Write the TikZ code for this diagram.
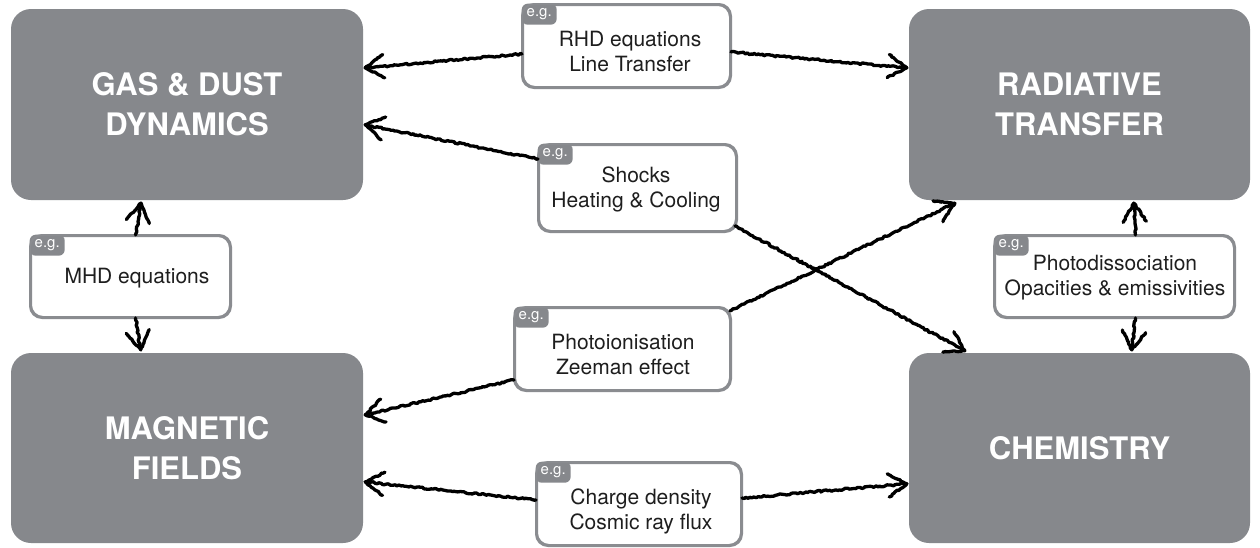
\documentclass[tikz,border=0pt]{standalone}
\usepackage{fontspec}
\setmainfont{TeX Gyre Heros}
\usetikzlibrary{calc,decorations.pathmorphing}
\definecolor{boxgray}{RGB}{134,136,140}
\definecolor{edgegray}{RGB}{138,140,144}
\definecolor{txt}{RGB}{30,30,30}
\tikzset{
 big/.style={draw=none, fill=boxgray, rounded corners=20pt, text=white, font=\fontsize{31}{40}\selectfont\bfseries, align=center, inner sep=0pt},
 egbox/.style={draw=edgegray, line width=2pt, fill=white, rounded corners=12pt, inner sep=0pt},
 egtag/.style={fill=boxgray, rounded corners=6pt, minimum width=35pt, minimum height=21pt, inner sep=0pt, text=white, font=\fontsize{15}{15}\selectfont, anchor=north west},
 lbl/.style={text=txt, font=\fontsize{21}{25}\selectfont, align=center, inner sep=0pt},
 sketch/.style={draw=black, line width=3.3pt, line cap=round, line join=round, decorate, decoration={random steps, segment length=2pt, amplitude=0.9pt}},
 sketchhead/.style={draw=black, line width=3.3pt, line cap=round, line join=round, decorate, decoration={random steps, segment length=2pt, amplitude=0.7pt}},
}
\newcommand{\headV}[2]{\draw[sketchhead] ($(#2)!22pt!32:(#1)$) -- (#2) -- ($(#2)!22pt!-32:(#1)$);}
\newcommand{\egbox}[4]{% name, center, width, height
 \node[egbox, minimum width=#3pt, minimum height=#4pt] (#1) at (#2) {};
 \node[egtag] (#1tag) at ([xshift=-0.5pt,yshift=0.5pt]#1.north west) {e.g.};
 \draw[edgegray, line width=2pt, rounded corners=12pt] (#1.north west) rectangle (#1.south east);
}
\begin{document}
\begin{tikzpicture}[x=1pt,y=-1pt]
\fill[white] (0,0) rectangle (1260,547);
\useasboundingbox (0,0) rectangle (1260,547);

% main boxes
\node[big, minimum width=352pt, minimum height=191pt] (gas) at (187,104.5) {GAS \& DUST\\DYNAMICS};
\node[big, minimum width=341pt, minimum height=191pt] (rad) at (1079.5,104.5) {RADIATIVE\\TRANSFER};
\node[big, minimum width=352pt, minimum height=190pt] (mag) at (187,448) {MAGNETIC\\FIELDS};
\node[big, minimum width=341pt, minimum height=190pt] (chem) at (1079.5,448) {CHEMISTRY};

% example boxes
\egbox{rhd}{626.5,46}{207}{82}
\node[lbl] (rhdT) at (630,51) {RHD equations\\Line Transfer};
\egbox{shk}{637.5,188}{197}{86}
\node[lbl] (shkT) at (636,189) {Shocks\\Heating \& Cooling};
\egbox{mhd}{130.5,276.5}{199}{81}
\node[lbl] (mhdT) at (137,278) {MHD equations};
\egbox{pio}{622.5,349}{215}{82}
\node[lbl] (pioT) at (623,354) {Photoionisation\\Zeeman effect};
\egbox{pdi}{1114.5,276.5}{239}{81}
\node[lbl] (pdiT) at (1115,278) {Photodissociation\\Opacities \& emissivities};
\egbox{chg}{639,504}{204}{82}
\node[lbl] (chgT) at (641,511) {Charge density\\Cosmic ray flux};

% connector ends
\coordinate (s1) at ($(rhd.west)+(0,8)$);
\coordinate (s2) at ($(rhd.east)+(0,6)$);
\coordinate (s3) at ($(shk.west)+(0,-29)$);
\coordinate (s4) at ($(shk.south east)+(-2,-6)$);
\coordinate (s5) at ($(pio.north east)+(-1,4)$);
\coordinate (s6) at ($(pio.west)+(0,31)$);
\coordinate (s7) at ($(mhd.north)+(5,0)$);
\coordinate (s8) at ($(mhd.south)+(5,0)$);
\coordinate (s9) at ($(pdi.north)+(21,0)$);
\coordinate (s10) at ($(pdi.south)+(21,0)$);
\coordinate (s11) at ($(chg.west)+(0,-4)$);
\coordinate (s12) at ($(chg.east)+(0,-6)$);

\coordinate (t1) at ($(gas.north east)+(2,59)$);
\coordinate (t3) at ($(gas.north east)+(2,116)$);
\coordinate (t7) at ($(gas.south)+(-46,3)$);
\coordinate (t2) at ($(rad.north west)+(-2,59)$);
\coordinate (t5) at ($(rad.south west)+(46,3)$);
\coordinate (t9) at ($(rad.south west)+(225,3)$);
\coordinate (t6) at ($(mag.north east)+(2,62)$);
\coordinate (t11) at ($(mag.north east)+(2,129)$);
\coordinate (t8) at ($(mag.north west)+(130,-3)$);
\coordinate (t4) at ($(chem.north west)+(56,-2)$);
\coordinate (t10) at ($(chem.north west)+(223,-3)$);
\coordinate (t12) at ($(chem.north west)+(-2,131)$);

% connectors
\foreach \i in {1,...,12}{
  \draw[sketch] (s\i) -- (t\i);
  \headV{s\i}{t\i}
}
\end{tikzpicture}
\end{document}
